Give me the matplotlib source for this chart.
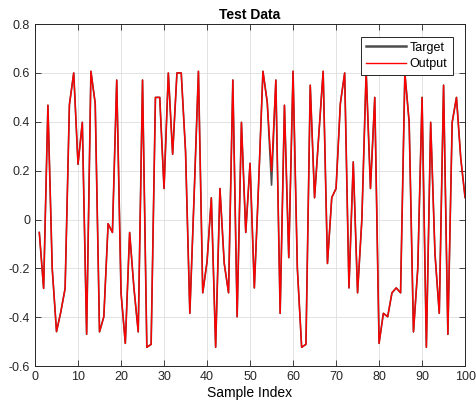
import numpy as np
import matplotlib
matplotlib.use("Agg")
import matplotlib.pyplot as plt

plt.rcParams['font.family'] = ['Liberation Sans', 'DejaVu Sans']

# sample index 1..100
sample_idx = np.arange(1, 101)

# network output
output = [
    -0.053, -0.282, 0.468, -0.20, -0.459, -0.378, -0.282, 0.47, 0.60, 0.226,
    0.398, -0.47, 0.607, 0.475, -0.46, -0.398, -0.017, -0.053, 0.571, -0.30,
    -0.507, -0.053, -0.28, -0.46, 0.571, -0.523, -0.511, 0.50, 0.50, 0.127,
    0.60, 0.267, 0.60, 0.60, 0.28, -0.384, 0.10, 0.607, -0.30, -0.173,
    0.089, -0.523, 0.127, -0.18, -0.30, 0.571, -0.398, 0.398, -0.053, 0.23,
    -0.28, 0.15, 0.607, 0.48, 0.198, 0.571, -0.384, 0.468, -0.156, 0.607,
    -0.20, -0.523, -0.511, 0.55, 0.089, 0.35, 0.607, -0.18, 0.09, 0.127,
    0.475, 0.60, -0.28, 0.236, -0.30, 0.0, 0.607, 0.127, 0.50, -0.507,
    -0.384, -0.398, -0.30, -0.28, -0.30, 0.60, 0.398, -0.46, -0.20, 0.50,
    -0.523, 0.398, -0.14, -0.384, 0.55, -0.47, 0.398, 0.50, 0.25, 0.09,
]

# target equals output except at sample 55
target = list(output)
target[54] = 0.141

fig = plt.figure(figsize=(4.77, 4.16), dpi=100)
ax = fig.add_axes([0.0734, 0.120, 0.9016, 0.822])

ax.plot(sample_idx, target, color='0.3', lw=1.2, label='Target')
ax.plot(sample_idx, output, color='red', lw=1.0, label='Output')

ax.set_xlim(0, 100)
ax.set_ylim(-0.6, 0.8)
ax.set_xticks(np.arange(0, 101, 10))
ax.set_yticks(np.arange(-0.6, 0.81, 0.2))
ax.set_yticklabels(['-0.6', '-0.4', '-0.2', '0', '0.2', '0.4', '0.6', '0.8'])
ax.grid(True, color='0.87', lw=0.6)
ax.set_axisbelow(True)
ax.tick_params(direction='in', length=4, width=0.6, labelsize=9,
               top=True, right=True, colors='0.15')
for s in ax.spines.values():
    s.set_color('0.15')
    s.set_linewidth(0.7)

ax.set_title('Test Data', fontsize=10, fontweight='bold', pad=4)
ax.set_xlabel('Sample Index', fontsize=10, labelpad=2)

leg = ax.legend(loc='upper right', fontsize=9, fancybox=False, framealpha=1,
                edgecolor='0.15', borderpad=0.4, handlelength=3.2,
                labelspacing=0.35, handletextpad=0.3, borderaxespad=1.0)
leg.get_frame().set_linewidth(0.7)
leg.get_lines()[0].set_linewidth(1.8)

fig.savefig('out.png', dpi=100)
